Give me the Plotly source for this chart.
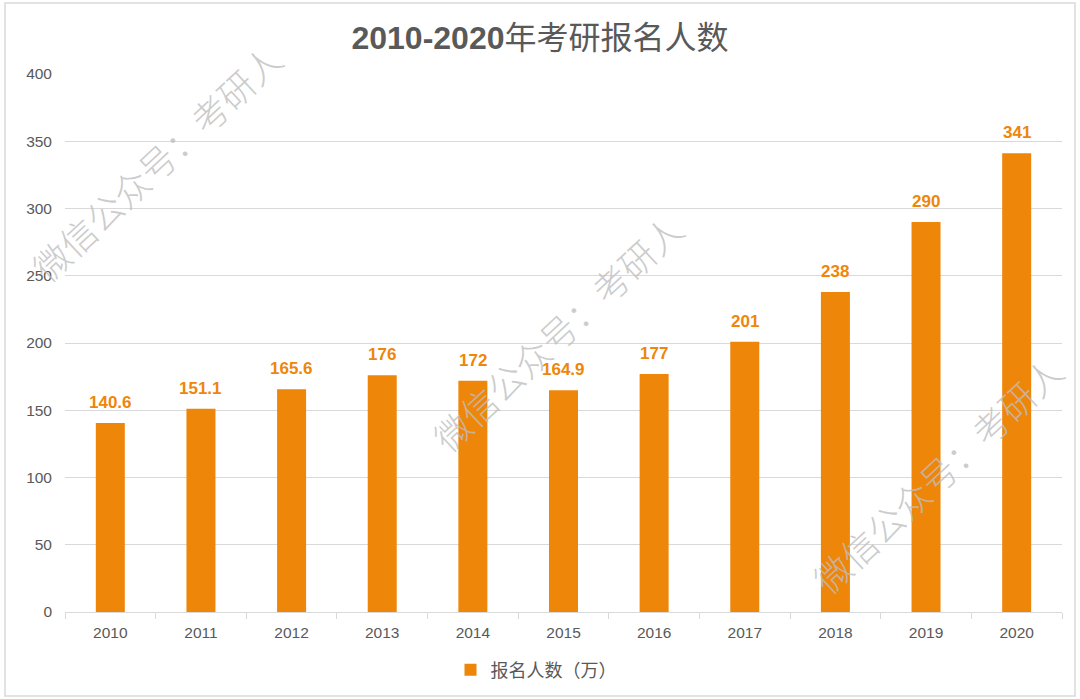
import plotly.graph_objects as go

years = ["2010", "2011", "2012", "2013", "2014", "2015", "2016", "2017", "2018", "2019", "2020"]
applicants = [140.6, 151.1, 165.6, 176, 172, 164.9, 177, 201, 238, 290, 341]
series_name = "报名人数（万）"
title_text = "<b>2010-2020</b>年考研报名人数"
watermark = "微信公众号：考研人"

ORANGE = "#EE860A"
GRID = "#D9D9D9"
TXT = "#595959"
FONT = "Arial, 'Liberation Sans', 'Noto Sans CJK SC', sans-serif"

W, H = 1080, 699
ML, MR, MT, MB = 65, 18, 74, 87
PW, PH = W - ML - MR, H - MT - MB

def px(x):
    return (x - ML) / PW

def py(y):
    return (H - MB - y) / PH

fig = go.Figure()
fig.add_trace(go.Bar(
    x=years, y=applicants, name=series_name,
    marker=dict(color=ORANGE, line=dict(width=0)),
    showlegend=True,
))

annotations = []
for i, v in enumerate(applicants):
    annotations.append(dict(
        x=i, y=v, xref="x", yref="y", text=f"{v:g}", showarrow=False,
        yanchor="bottom", yshift=9,
        font=dict(family=FONT, size=17, color=ORANGE, weight="bold"),
    ))

for cx, cy in [(156, 162), (557, 332), (937, 474)]:
    annotations.append(dict(
        x=px(cx), y=py(cy), xref="paper", yref="paper", text=watermark,
        showarrow=False, textangle=-43, xanchor="center", yanchor="middle",
        font=dict(family="'Noto Sans CJK SC', sans-serif", size=36, weight=300,
                  color="rgba(190,190,190,0.8)"),
    ))

fig.update_layout(
    width=W, height=H,
    margin=dict(l=ML, r=MR, t=MT, b=MB, autoexpand=False),
    paper_bgcolor="white", plot_bgcolor="white",
    font=dict(family=FONT, color=TXT),
    title=dict(text=title_text, x=0.5, xanchor="center", y=1 - 38 / H, yanchor="middle",
               font=dict(family=FONT, size=32, color=TXT)),
    bargap=0.68,
    xaxis=dict(
        type="category", range=[-0.5, len(years) - 0.5], autorange=False,
        showline=True, linecolor=GRID, linewidth=1,
        ticks="outside", tickson="boundaries", ticklen=6, tickcolor=GRID,
        ticklabelstandoff=6,
        tickfont=dict(size=15.5, color=TXT), showgrid=False,
    ),
    yaxis=dict(
        range=[0, 400], dtick=50, showgrid=True, gridcolor=GRID, gridwidth=1,
        zeroline=False, showline=False, ticks="", ticklabelstandoff=12,
        tickfont=dict(size=15.5, color=TXT),
    ),
    legend=dict(orientation="h", x=px(536), xanchor="center", y=py(670), yanchor="middle",
                font=dict(family="'Noto Sans CJK SC', sans-serif", size=18, color=TXT),
                itemwidth=30),
    annotations=annotations,
    shapes=[dict(type="rect", xref="paper", yref="paper",
                 x0=px(5), x1=px(1075), y0=py(696), y1=py(3),
                 line=dict(color=GRID, width=1.5), fillcolor="rgba(0,0,0,0)", layer="below")],
)

fig.write_html("out.html", config={"displayModeBar": False},
               post_script="document.body.style.margin='0';document.body.style.padding='0';")
